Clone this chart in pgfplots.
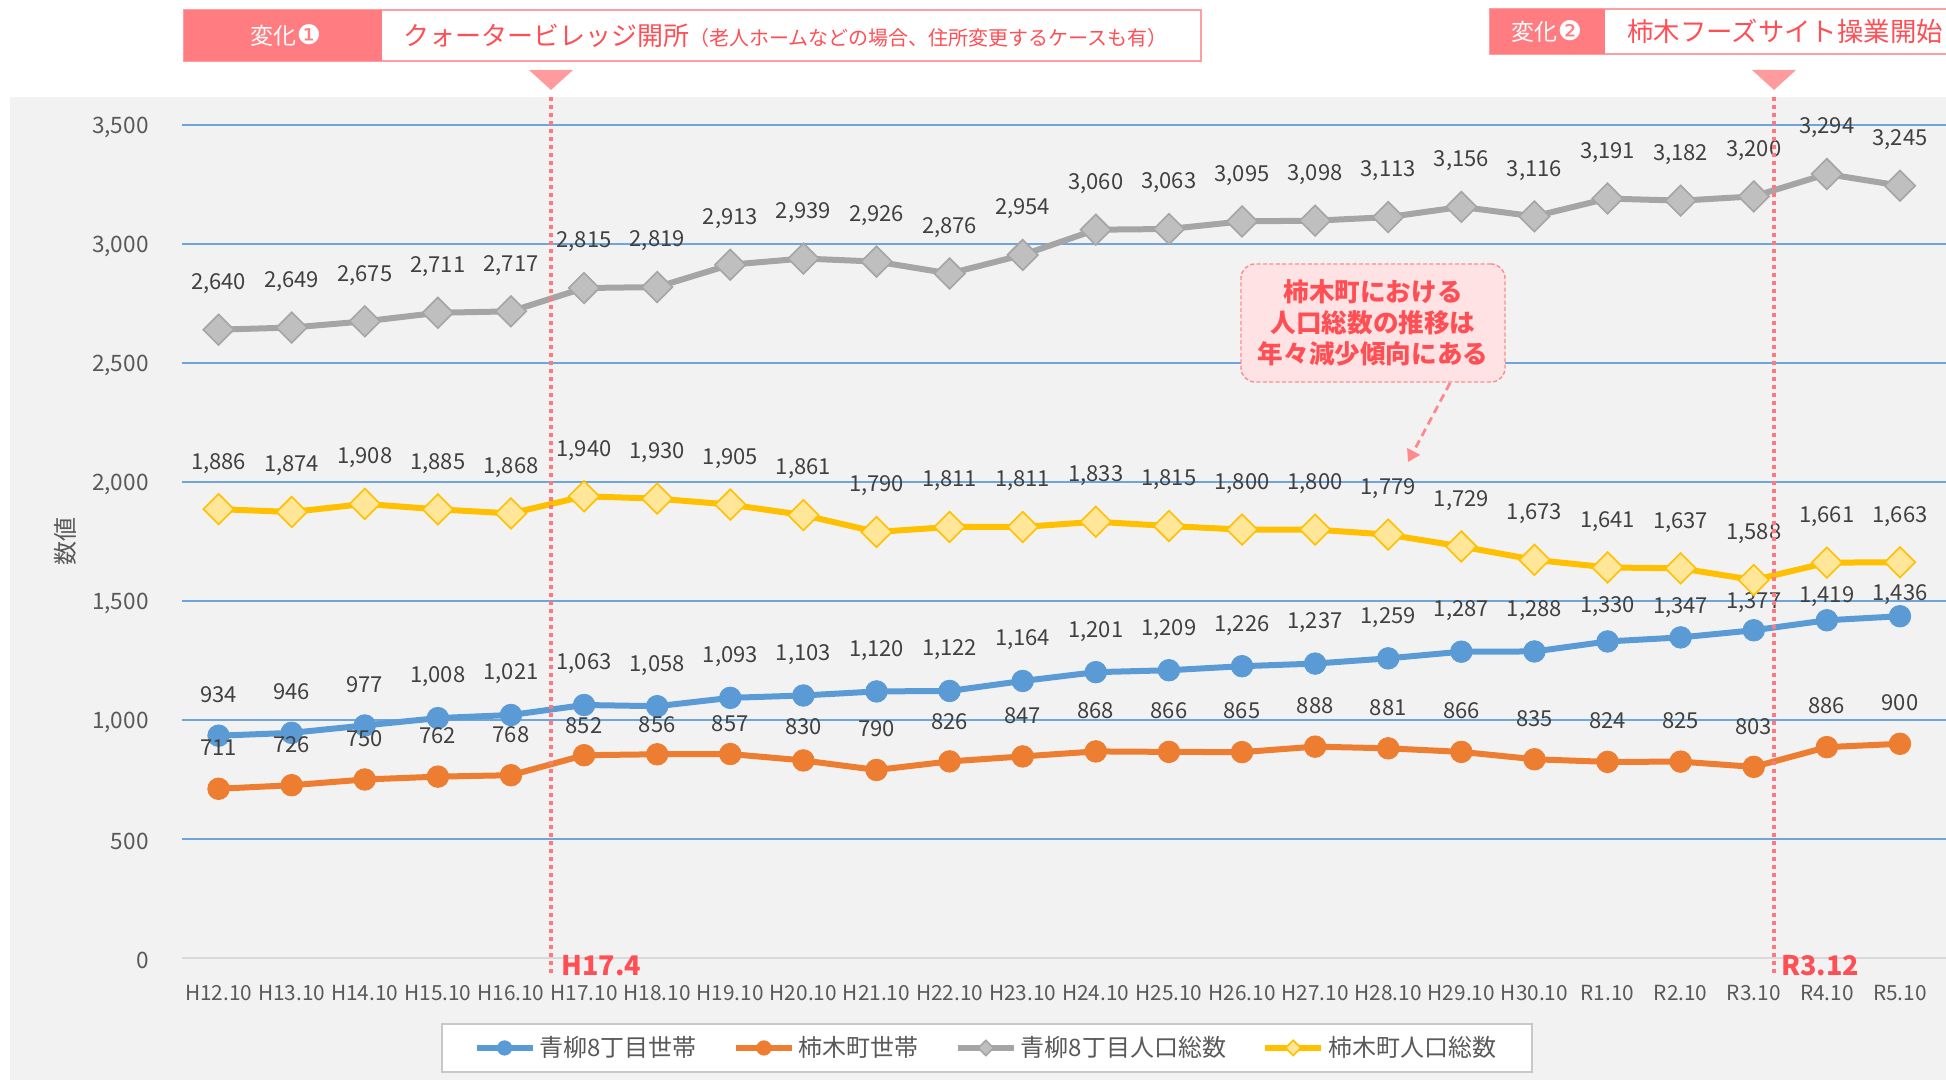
\documentclass[border=0pt]{standalone}
\usepackage{pgfplots}
\usepackage{pgfplotstable}
\pgfplotsset{compat=1.18}
\usepackage{fontspec}
\setmainfont{Noto Sans CJK JP}
\newfontfamily\dejavu{DejaVu Sans}
\usetikzlibrary{arrows.meta}

\definecolor{bg}{HTML}{F2F2F2}
\definecolor{gridblue}{HTML}{6EA6DC}
\definecolor{zeroline}{HTML}{D9D9D9}
\definecolor{sblue}{HTML}{5B9BD5}
\definecolor{sorange}{HTML}{ED7D31}
\definecolor{sgray}{HTML}{A5A5A5}
\definecolor{sgrayfill}{HTML}{BFBFBF}
\definecolor{syellow}{HTML}{FFC000}
\definecolor{syellowfill}{HTML}{FFE699}
\definecolor{pinkbar}{HTML}{FF7C80}
\definecolor{pinkborder}{HTML}{FF9EA0}
\definecolor{pinktri}{HTML}{FF9B9E}
\definecolor{redtext}{HTML}{FF4F55}
\definecolor{redline}{HTML}{FF7880}
\definecolor{tickc}{HTML}{595959}
\definecolor{lblc}{HTML}{404040}
\definecolor{notefill}{HTML}{FFE3E4}
\definecolor{noteborder}{HTML}{FF8A8E}
\definecolor{legborder}{HTML}{C8C8C8}

\pgfplotstableread{
i b bo o oo g y
0 934 20.5 711 20.5 2640 1886
1 946 20.5 726 20.5 2649 1874
2 977 20.5 750 20.5 2675 1908
3 1008 20.5 762 20.5 2711 1885
4 1021 20.5 768 20.5 2717 1868
5 1063 20.5 852 15 2815 1940
6 1058 20.5 856 15 2819 1930
7 1093 20.5 857 15 2913 1905
8 1103 20.5 830 17 2939 1861
9 1120 20.5 790 20.5 2926 1790
10 1122 20.5 826 20 2876 1811
11 1164 20.5 847 20.5 2954 1811
12 1201 20.5 868 20.5 3060 1833
13 1209 20.5 866 20.5 3063 1815
14 1226 20.5 865 20.5 3095 1800
15 1237 20.5 888 20.5 3098 1800
16 1259 20.5 881 20.5 3113 1779
17 1287 20.5 866 20.5 3156 1729
18 1288 20.5 835 20.5 3116 1673
19 1330 17.5 824 20.5 3191 1641
20 1347 15 825 20.5 3182 1637
21 1377 14 803 20 3200 1588
22 1419 12 886 20.5 3294 1661
23 1436 11 900 20.5 3245 1663
}\data

\begin{document}
\begin{tikzpicture}[x=1pt,y=1pt]
\useasboundingbox (0,0) rectangle (973,540);
\fill[white] (0,0) rectangle (973,540);
\fill[bg] (5,0) rectangle (973,491.5);

% banner 1
\draw[pinkborder, line width=0.7pt, fill=white] (92,509.5) rectangle (600.5,535);
\fill[pinkbar] (92,509.5) rectangle (191,535);
\node[text=white, inner sep=0, font=\fontsize{11.5}{11.5}\selectfont] at (143,522.25) {変化{\dejavu\fontsize{13.5}{13.5}\selectfont ❶}};
\node[anchor=west, text=redtext, inner sep=0] at (201.5,522.25) {\fontsize{13}{13}\selectfont クォータービレッジ開所\fontsize{10}{10}\selectfont（老人ホームなどの場合、住所変更するケースも有）};
% banner 2
\draw[pinkborder, line width=0.7pt, fill=white] (745,513) rectangle (985,535.5);
\fill[pinkbar] (745,513) rectangle (802.5,535.5);
\node[text=white, inner sep=0, font=\fontsize{11.5}{11.5}\selectfont] at (773.5,524.25) {変化{\dejavu\fontsize{13.5}{13.5}\selectfont ❷}};
\node[anchor=west, text=redtext, inner sep=0, font=\fontsize{13.2}{13.2}\selectfont] at (813.5,524.25) {柿木フーズサイト操業開始};
% triangles
\fill[pinktri] (264.5,505) -- (286.5,505) -- (275.5,495) -- cycle;
\fill[pinktri] (876,505) -- (898,505) -- (887,495) -- cycle;

\node[rotate=90, text=tickc, inner sep=0, font=\fontsize{12}{12}\selectfont] at (32.5,269) {数値};

\begin{axis}[
  at={(91pt,61pt)}, anchor=south west, scale only axis,
  width=882pt, height=416.5pt,
  xmin=-0.5, xmax=23.63, ymin=0, ymax=3500,
  clip=false,
  axis line style={draw=none},
  major tick length=0pt,
  tick style={draw=none},
  ytick={0,500,...,3500},
  xtick={0,...,23},
  xticklabels={H12.10,H13.10,H14.10,H15.10,H16.10,H17.10,H18.10,H19.10,H20.10,H21.10,H22.10,H23.10,H24.10,H25.10,H26.10,H27.10,H28.10,H29.10,H30.10,R1.10,R2.10,R3.10,R4.10,R5.10},
  ymajorgrids,
  grid style={gridblue, line width=1pt},
  /pgf/number format/1000 sep={,},
  /pgf/number format/assume math mode=true,
  yticklabel style={font=\fontsize{11.3}{11.3}\selectfont, text=tickc, anchor=east, inner sep=0pt, xshift=-16.5pt, yshift=-1pt},
  xticklabel style={font=\fontsize{10.4}{10.4}\selectfont, text=tickc, anchor=center, inner sep=0pt, yshift=-17.5pt},
  nodes near coords,
  nodes near coords align={center},
  every node near coord/.append style={font=\fontsize{11}{11}\selectfont, text=lblc, inner sep=0pt, anchor=center},
  legend columns=4,
  legend cell align=left,
  legend style={at={(0.4563,-0.108)}, anchor=center, draw=legborder, fill=white, line width=1pt,
    font=\fontsize{12}{12}\selectfont, text=tickc, inner xsep=16pt, inner ysep=4pt,
    /tikz/every even column/.append style={column sep=16pt}},
  legend image code/.code={\draw[mark repeat=2,mark phase=2,#1] plot coordinates {(0pt,0pt) (14pt,0pt) (28pt,0pt)};},
]
\draw[zeroline, line width=1pt] (axis cs:-0.5,0) -- (axis cs:23.63,0);

\addplot[sblue, line width=3pt, mark=*, mark size=5.4pt,
  mark options={fill=sblue, draw=sblue, line width=0.4pt},
  legend image post style={mark size=3.6pt},
  visualization depends on={\thisrow{bo}\as\myoff},
  every node near coord/.append style={yshift=\myoff pt}]
  table[x=i, y=b] {\data};
\addlegendentry{青柳8丁目世帯}

\addplot[sorange, line width=3pt, mark=*, mark size=5.4pt,
  mark options={fill=sorange, draw=sorange, line width=0.4pt},
  legend image post style={mark size=3.6pt},
  visualization depends on={\thisrow{oo}\as\myoff},
  every node near coord/.append style={yshift=\myoff pt}]
  table[x=i, y=o] {\data};
\addlegendentry{柿木町世帯}

\addplot[sgray, line width=3pt, mark=square*, mark size=5.4pt,
  mark options={fill=sgrayfill, draw=sgray, line width=0.8pt, rotate=45},
  legend image post style={mark size=2.7pt},
  every node near coord/.append style={yshift=23pt}]
  table[x=i, y=g] {\data};
\addlegendentry{青柳8丁目人口総数}

\addplot[syellow, line width=3pt, mark=square*, mark size=5.4pt,
  mark options={fill=syellowfill, draw=syellow, line width=0.8pt, rotate=45},
  legend image post style={mark size=2.7pt},
  every node near coord/.append style={yshift=23pt}]
  table[x=i, y=y] {\data};
\addlegendentry{柿木町人口総数}
\end{axis}

% event lines
\draw[redline, line width=1.7pt, dash pattern=on 2pt off 2pt] (275.5,491.5) -- (275.5,53.5);
\draw[redline, line width=1.7pt, dash pattern=on 2pt off 2pt] (887,491.5) -- (887,53.5);
\node[anchor=west, text=redtext, inner sep=0, font=\bfseries\fontsize{13.5}{13.5}\selectfont] at (280.5,57) {H17.4};
\node[anchor=west, text=redtext, inner sep=0, font=\bfseries\fontsize{13.5}{13.5}\selectfont] at (890.5,57) {R3.12};

% note
\node[draw=noteborder, dash pattern=on 2pt off 1.2pt, fill=notefill, rounded corners=7pt, line width=0.7pt,
  align=center, text=redtext, font=\bfseries\fontsize{12.8}{15.5}\selectfont,
  minimum width=132pt, minimum height=59pt, inner sep=0pt] at (686.5,378.5)
  {柿木町における\\人口総数の推移は\\年々減少傾向にある};
\draw[noteborder, line width=1.4pt, dash pattern=on 4pt off 2.5pt, -{Triangle[length=6pt,width=7pt]}] (725,348.5) -- (704,309);
\end{tikzpicture}
\end{document}
